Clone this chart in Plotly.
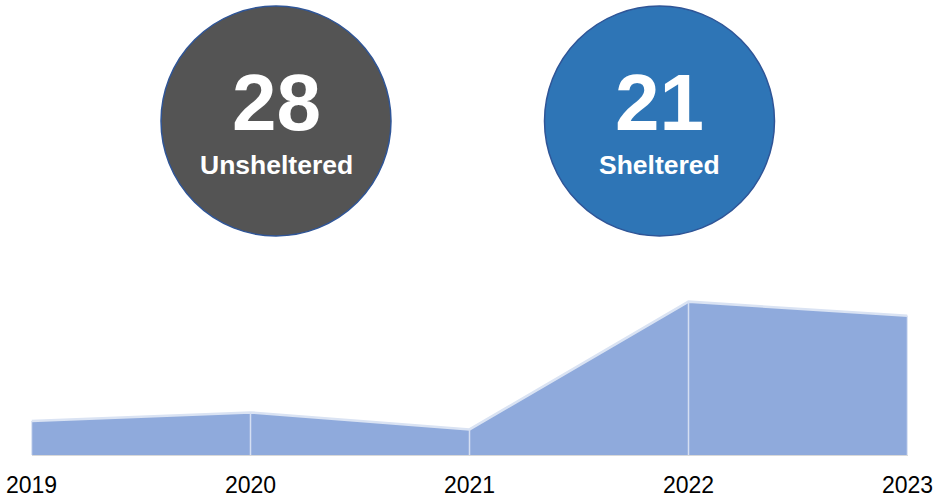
import plotly.graph_objects as go

# ---- data ----
years = [2019, 2020, 2021, 2022, 2023]
totals = [12, 15, 9, 54, 49]
tick_labels = ["2019", "2020", "2021", "2022", "2023"]
kpi_values = [28, 21]
kpi_labels = ["Unsheltered", "Sheltered"]
kpi_colors = ["#545454", "#2E75B6"]

W, H = 937, 500
FONT = "Liberation Sans, Arial, sans-serif"

fig = go.Figure()

# area
fig.add_trace(go.Scatter(
    x=years, y=totals, mode="lines", fill="tozeroy",
    fillcolor="#8FAADC", line=dict(color="#DAE3F3", width=2.5),
    hoverinfo="skip", showlegend=False,
))

# vertical separators at each data point
vx, vy = [], []
for xv, yv in zip(years, totals):
    vx += [xv, xv, None]
    vy += [0, yv, None]
fig.add_trace(go.Scatter(
    x=vx, y=vy, mode="lines", line=dict(color="#D5DFF2", width=1.5),
    hoverinfo="skip", showlegend=False,
))

# KPI circles
centers_px = [(276, 121), (659.5, 121)]
R = 115
shapes = []
annotations = []
for (cx, cy), val, lab, col in zip(centers_px, kpi_values, kpi_labels, kpi_colors):
    shapes.append(dict(
        type="circle", xref="paper", yref="paper",
        x0=(cx - R) / W, x1=(cx + R) / W,
        y0=(H - cy - R) / H, y1=(H - cy + R) / H,
        fillcolor=col, line=dict(color="#2F5597", width=1.5), layer="below",
    ))
    annotations.append(dict(
        xref="paper", yref="paper", x=cx / W, y=(H - 103) / H,
        text=f"<b>{val}</b>", showarrow=False, xanchor="center", yanchor="middle",
        font=dict(family=FONT, size=80, color="white"),
    ))
    annotations.append(dict(
        xref="paper", yref="paper", x=cx / W, y=(H - 165) / H,
        text=f"<b>{lab}</b>", showarrow=False, xanchor="center", yanchor="middle",
        font=dict(family=FONT, size=26.5, color="white"),
    ))

fig.update_layout(
    width=W, height=H,
    margin=dict(l=0, r=0, t=0, b=0),
    paper_bgcolor="white", plot_bgcolor="white",
    shapes=shapes, annotations=annotations,
    xaxis=dict(
        range=[2019, 2023], domain=[31.5 / W, 907.5 / W],
        tickvals=years, ticktext=tick_labels,
        showgrid=False, zeroline=False, showline=True, linecolor="#D9D9D9", linewidth=1,
        ticks="", tickfont=dict(family=FONT, size=23, color="black"),
        ticklabelstandoff=9,
        automargin=False, fixedrange=True,
    ),
    yaxis=dict(
        range=[0, 60], domain=[45 / H, (H - 455 + 60 * 2.84) / H],
        visible=False, fixedrange=True,
    ),
)

fig.write_html(
    "out.html",
    config={"displayModeBar": False},
    post_script="document.body.style.margin='0';document.body.style.overflow='hidden';",
)
